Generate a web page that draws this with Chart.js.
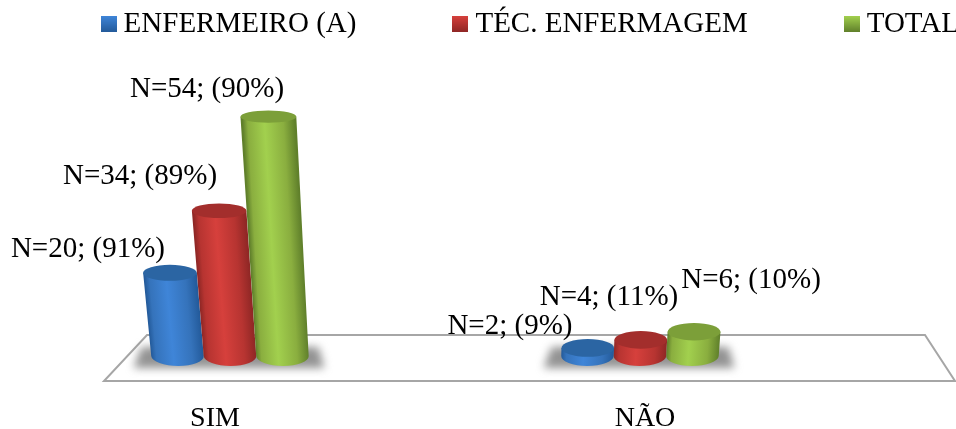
<!DOCTYPE html>
<html>
<head>
<meta charset="utf-8">
<title>SIM / NÃO</title>
<style>
    html, body { margin: 0; padding: 0; background: #fff; overflow: hidden; }
    #wrap { width: 956px; height: 429px; overflow: hidden; }
    canvas { display: block; }
</style>
<script src="https://cdn.jsdelivr.net/npm/chart.js@4/dist/chart.umd.js"></script>
</head>
<body>
<div id="wrap"><canvas id="chartRespostas" width="1067" height="429"></canvas></div>
<script>
var categorias = ['SIM', 'NÃO'];
var nomes = ['ENFERMEIRO (A)', 'TÉC. ENFERMAGEM', 'TOTAL'];
var enfermeiro = [20, 2];
var tecnico = [34, 4];
var total = [54, 6];
var pctEnfermeiro = [91, 9];
var pctTecnico = [89, 11];
var pctTotal = [90, 10];

var FONTE = '"Liberation Serif", "Times New Roman", serif';

// cores dos cilindros: borda, meio, brilho, tampa
var cores = [
    { borda: '#235a9a', meio: '#3573bb', luz: '#3f85d8', tampa: '#2b65a3' },
    { borda: '#8f2725', meio: '#b73431', luz: '#d6403c', tampa: '#a32e2c' },
    { borda: '#60802b', meio: '#8aae3f', luz: '#a2d04e', tampa: '#7c9f39' }
];

// deslocamento de cada rótulo em relação ao topo da barra
var ajusteRotulos = [
    [[-72, -27], [-80, -22]],
    [[-75, -44], [-36, -43]],
    [[-63, -51], [51, -52]]
];

// projeção simples do piso: fundo mais estreito, colunas abrem para cima
var CENTRO_PISO = 537;
var CENTRO_FUGA = 478;

function noPiso(x) {
    return CENTRO_PISO + (x - CENTRO_PISO) * 0.9536;
}

function amostra(c) {
    var cv = document.createElement('canvas');
    cv.width = 16;
    cv.height = 16;
    var g = cv.getContext('2d');
    var grad = g.createLinearGradient(0, 0, 0, 16);
    grad.addColorStop(0, c.luz);
    grad.addColorStop(1, c.borda);
    g.fillStyle = grad;
    g.fillRect(0, 0, 16, 16);
    return cv;
}

function cilindro(ctx, el, c) {
    var h0 = el.base - el.y;
    var h = h0 * (1 + 0.0005 * h0);
    var xb = noPiso(el.x);
    var yb = el.base;
    var yt = yb - h;
    var xt = xb + (xb - CENTRO_FUGA) * 0.0003 * h;
    var rb = el.width / 2 * 0.9536;
    var rt = rb + 0.007 * h;
    var ryb = 10;
    var ryt = 9 - 0.012 * h;

    // inclina o corpo para o degradê acompanhar a coluna
    var s = (xb - xt) / h;
    ctx.save();
    ctx.transform(1, 0, s, 1, -s * yb, 0);

    var grad = ctx.createLinearGradient(xb - rb, 0, xb + rb, 0);
    grad.addColorStop(0, c.borda);
    grad.addColorStop(0.1, c.meio);
    grad.addColorStop(0.42, c.luz);
    grad.addColorStop(0.78, c.meio);
    grad.addColorStop(1, c.borda);

    ctx.beginPath();
    ctx.moveTo(xb - rt, yt);
    ctx.lineTo(xb - rb, yb);
    ctx.ellipse(xb, yb, rb, ryb, 0, Math.PI, 0, true);
    ctx.lineTo(xb + rt, yt);
    ctx.closePath();
    ctx.fillStyle = grad;
    ctx.fill();
    ctx.restore();

    ctx.beginPath();
    ctx.ellipse(xt, yt, rt, ryt, 0, 0, Math.PI * 2);
    ctx.fillStyle = c.tampa;
    ctx.fill();
}

var cenario3d = {
    id: 'cenario3d',
    beforeInit: function (chart) {
        // o espaçamento largo da legenda não deve empurrar a área do gráfico
        var fit = chart.legend.fit;
        chart.legend.fit = function () {
            fit.call(this);
            this.height = 116;
        };
    },
    afterLayout: function (chart) {
        chart.legend.top = -94;
    },
    beforeDatasetsDraw: function (chart) {
        var ctx = chart.ctx;
        var base = chart.scales.y.bottom;

        // piso
        ctx.save();
        ctx.beginPath();
        ctx.moveTo(147, base - 21);
        ctx.lineTo(925, base - 21);
        ctx.lineTo(955, base + 25);
        ctx.lineTo(104, base + 25);
        ctx.closePath();
        ctx.fillStyle = '#fff';
        ctx.fill();
        ctx.lineWidth = 2;
        ctx.strokeStyle = '#a6a6a6';
        ctx.stroke();
        ctx.restore();

        // sombra sob cada grupo de colunas
        ctx.save();
        ctx.filter = 'blur(4px)';
        ctx.fillStyle = 'rgba(120,120,120,0.8)';
        categorias.forEach(function (_, i) {
            var x0 = noPiso(chart.getDatasetMeta(0).data[i].x);
            var x1 = noPiso(chart.getDatasetMeta(2).data[i].x);
            ctx.beginPath();
            ctx.moveTo(x0 - 36, base - 9);
            ctx.lineTo(x1 + 36, base - 9);
            ctx.lineTo(x1 + 42, base + 12);
            ctx.lineTo(x0 - 44, base + 12);
            ctx.closePath();
            ctx.fill();
        });
        ctx.restore();
    },
    afterDatasetsDraw: function (chart) {
        var ctx = chart.ctx;
        chart.data.datasets.forEach(function (ds, d) {
            chart.getDatasetMeta(d).data.forEach(function (el) {
                cilindro(ctx, el, cores[d]);
            });
        });

        ctx.save();
        ctx.font = '29px ' + FONTE;
        ctx.fillStyle = '#000';
        ctx.textAlign = 'center';
        ctx.textBaseline = 'middle';
        chart.data.datasets.forEach(function (ds, d) {
            chart.getDatasetMeta(d).data.forEach(function (el, i) {
                var txt = 'N=' + ds.data[i] + '; (' + ds.pct[i] + '%)';
                ctx.fillText(txt, el.x + ajusteRotulos[d][i][0], el.y + ajusteRotulos[d][i][1]);
            });
        });
        ctx.restore();
    }
};

new Chart(document.getElementById('chartRespostas'), {
    type: 'bar',
    data: {
        labels: categorias,
        datasets: [
            { label: nomes[0], data: enfermeiro, pct: pctEnfermeiro, backgroundColor: 'transparent' },
            { label: nomes[1], data: tecnico, pct: pctTecnico, backgroundColor: 'transparent' },
            { label: nomes[2], data: total, pct: pctTotal, backgroundColor: 'transparent' }
        ]
    },
    options: {
        responsive: false,
        animation: false,
        layout: { padding: 0 },
        categoryPercentage: 0.384,
        barPercentage: 1,
        scales: {
            x: {
                grid: { display: false },
                border: { display: false },
                ticks: { color: '#000', font: { family: FONTE, size: 28 }, padding: 38, maxRotation: 0 },
                afterFit: function (scale) { scale.height = 73; }
            },
            y: {
                position: 'right',
                min: 0,
                max: 60,
                grid: { display: false },
                border: { display: false },
                ticks: { display: false },
                // reserva a faixa à direita que fica fora da janela
                afterFit: function (scale) { scale.width = 207; }
            }
        },
        plugins: {
            tooltip: { enabled: false },
            legend: {
                position: 'top',
                labels: {
                    color: '#000',
                    font: { family: FONTE, size: 29, lineHeight: 1 },
                    usePointStyle: true,
                    boxWidth: 1,
                    boxHeight: 16,
                    padding: 103.5,
                    generateLabels: function (chart) {
                        return chart.data.datasets.map(function (ds, i) {
                            return {
                                text: ds.label,
                                pointStyle: amostra(cores[i]),
                                fillStyle: cores[i].meio,
                                strokeStyle: 'transparent',
                                lineWidth: 0,
                                hidden: false,
                                datasetIndex: i
                            };
                        });
                    }
                }
            }
        }
    },
    plugins: [cenario3d]
});
</script>
</body>
</html>
